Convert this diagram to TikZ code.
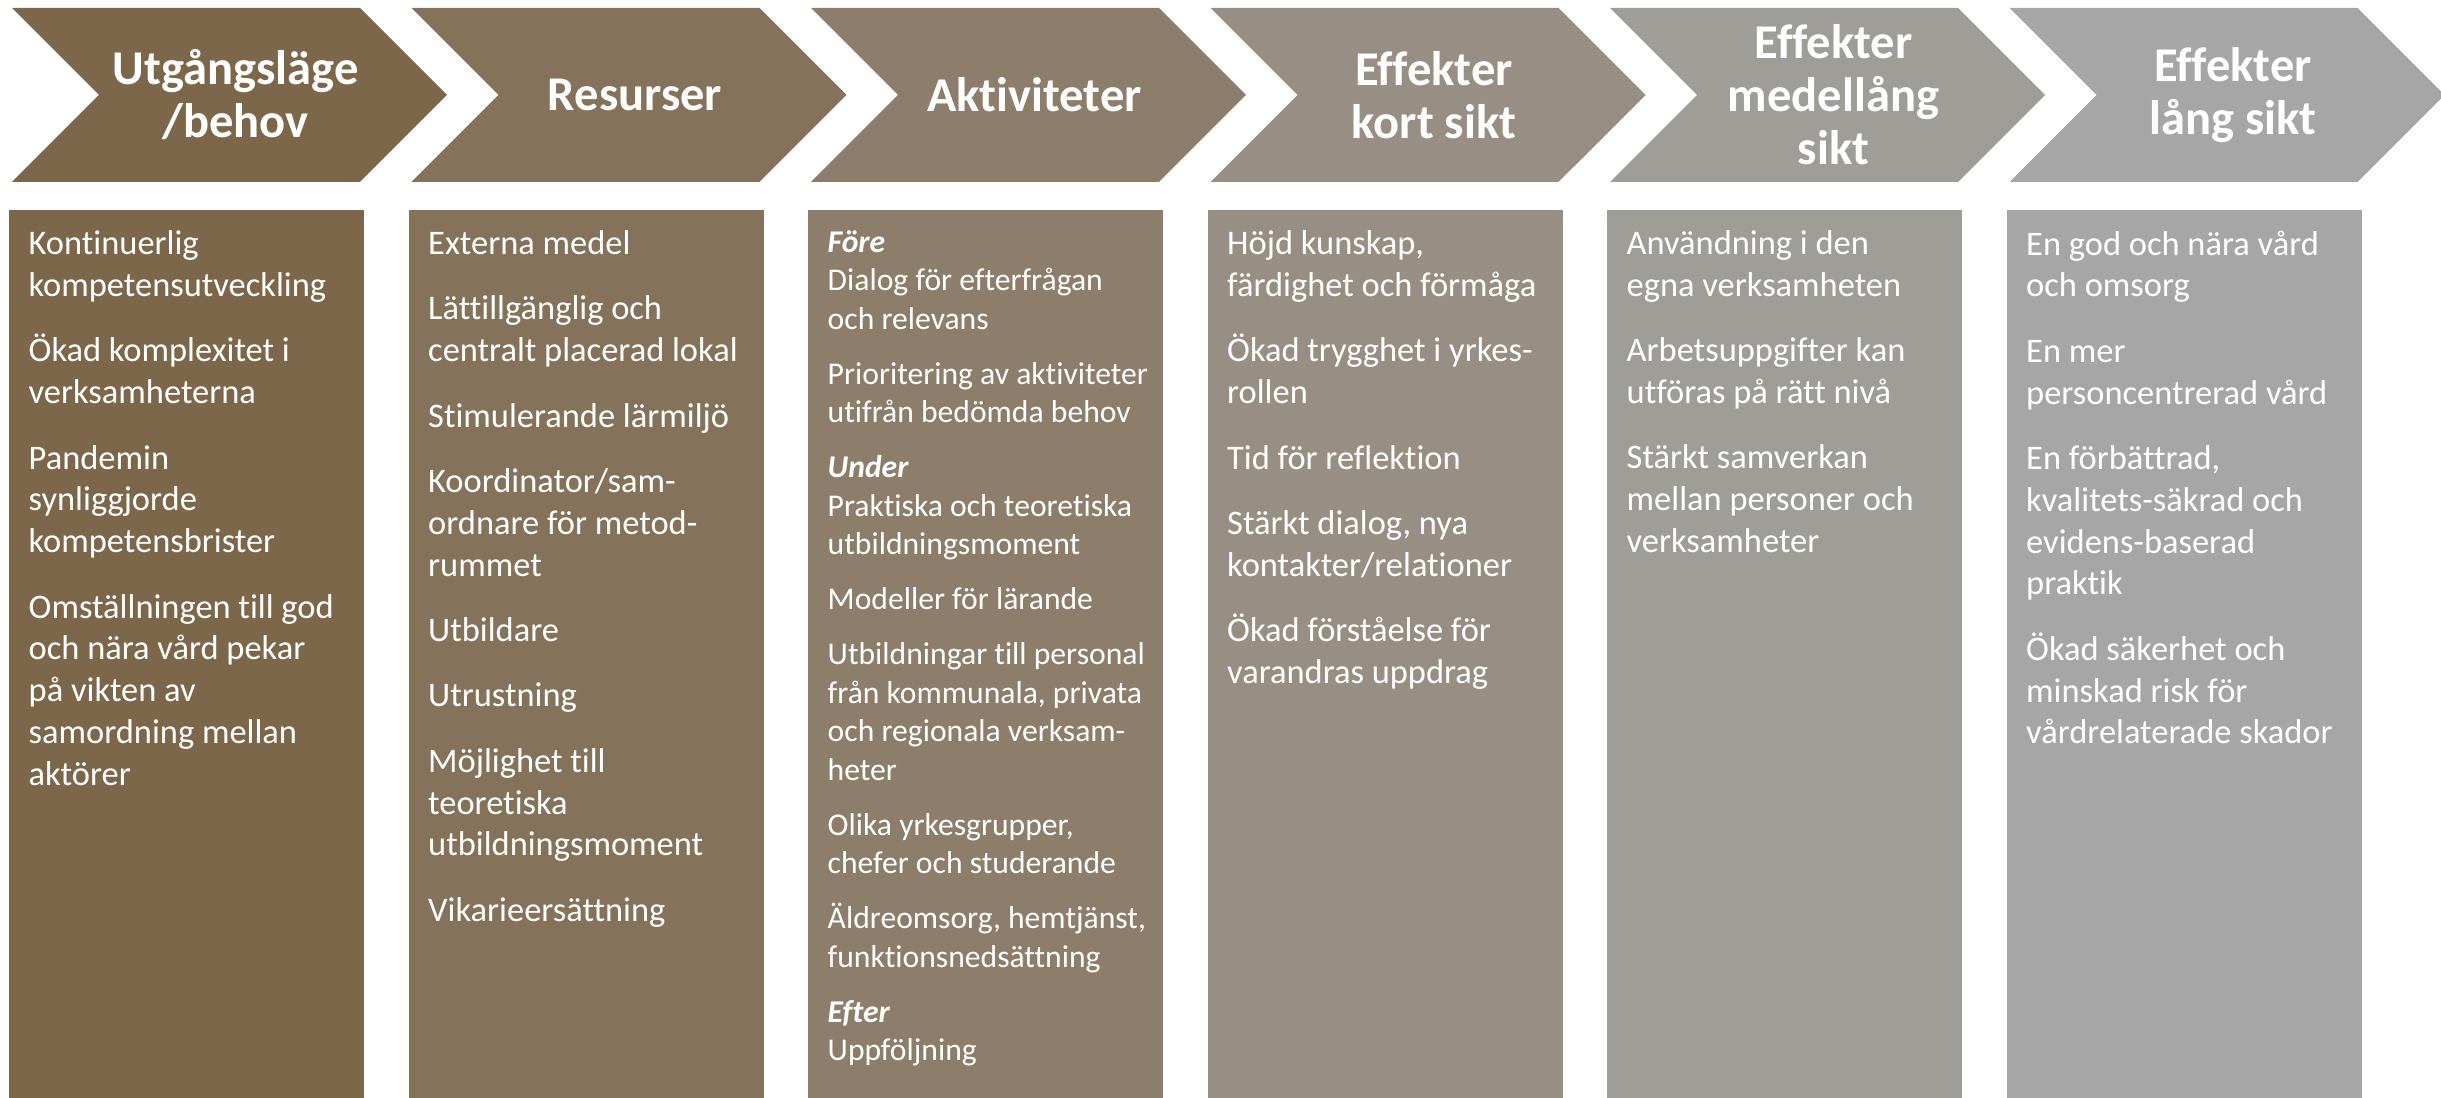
\documentclass[tikz,border=0pt]{standalone}
\usepackage{fontspec}
\setmainfont{Carlito}[Ligatures=NoCommon]
\usepackage{tikz}
\usetikzlibrary{shapes, shapes.symbols, positioning}
\usepackage{xcolor}
\definecolor{stepone}{HTML}{7D674A}
\definecolor{steptwo}{HTML}{84725A}
\definecolor{stepthree}{HTML}{8D7E6B}
\definecolor{stepfour}{HTML}{978F83}
\definecolor{stepfive}{HTML}{9F9D98}
\definecolor{stepsix}{HTML}{A6A6A6}

\begin{document}
\begin{tikzpicture}
        \tikzstyle{chevron}=[signal, signal from=west, signal to=east, signal pointer angle=90, minimum width=4.35cm, minimum height=1.74cm, inner sep=0pt, outer sep=0pt]
        \tikzstyle{header}=[text=white, align=center, inner sep=0pt, xshift=0.06cm, font=\bfseries\fontsize{13.8}{15.1}\selectfont]
        \tikzstyle{column}=[rectangle, minimum width=3.55cm, minimum height=8.88cm, inner sep=0pt, outer sep=0pt]
        \tikzstyle{items}=[text=white, align=left, inner sep=0pt, anchor=north west, font=\fontsize{9.8}{11.9}\selectfont]
        \tikzstyle{smallitems}=[items, font=\fontsize{9.0}{10.95}\selectfont]

        \useasboundingbox (0,0) rectangle (24.41,-10.98);

        % columns
        \node[column, fill=stepone, anchor=north west] (situationcol) at (0.09,-2.10) {};
        \node[column, fill=steptwo, right=0.445cm of situationcol] (resourcecol) {};
        \node[column, fill=stepthree, right=0.445cm of resourcecol] (activitycol) {};
        \node[column, fill=stepfour, right=0.445cm of activitycol] (shortcol) {};
        \node[column, fill=stepfive, right=0.445cm of shortcol] (midcol) {};
        \node[column, fill=stepsix, right=0.445cm of midcol] (longcol) {};

        % chevrons
        \node[chevron, fill=stepone, above=0.28cm of situationcol, xshift=0.43cm] (situation) {};
        \node[chevron, fill=steptwo, above=0.28cm of resourcecol, xshift=0.43cm] (resources) {};
        \node[chevron, fill=stepthree, above=0.28cm of activitycol, xshift=0.43cm] (activities) {};
        \node[chevron, fill=stepfour, above=0.28cm of shortcol, xshift=0.43cm] (shortterm) {};
        \node[chevron, fill=stepfive, above=0.28cm of midcol, xshift=0.43cm] (midterm) {};
        \node[chevron, fill=stepsix, above=0.28cm of longcol, xshift=0.43cm] (longterm) {};

        \node[header] (situationhead) at (situation.center) {Utgångsläge\\/behov};
        \node[header] (resourcehead) at (resources.center) {Resurser};
        \node[header] (activityhead) at (activities.center) {Aktiviteter};
        \node[header] (shorthead) at (shortterm.center) {Effekter\\kort sikt};
        \node[header] (midhead) at (midterm.center) {Effekter\\medellång\\sikt};
        \node[header] (longhead) at (longterm.center) {Effekter\\lång sikt};

        \node[items, below right=0.2cm and 0.19cm of situationcol.north west] (situationlist) {Kontinuerlig\\kompetensutveckling\\[6.7pt]Ökad komplexitet i\\verksamheterna\\[6.7pt]Pandemin\\synliggjorde\\kompetensbrister\\[6.7pt]Omställningen till god\\och nära vård pekar\\på vikten av\\samordning mellan\\aktörer};
        \node[items, below right=0.2cm and 0.19cm of resourcecol.north west] (resourcelist) {Externa medel\\[6.7pt]Lättillgänglig och\\centralt placerad lokal\\[6.7pt]Stimulerande lärmiljö\\[6.7pt]Koordinator/sam-\\ordnare för metod-\\rummet\\[6.7pt]Utbildare\\[6.7pt]Utrustning\\[6.7pt]Möjlighet till\\teoretiska\\utbildningsmoment\\[6.7pt]Vikarieersättning};
        \node[smallitems, below right=0.2cm and 0.19cm of activitycol.north west] (activitylist) {\textbf{\textit{Före}}\\Dialog för efterfrågan\\och relevans\\[4.7pt]Prioritering av aktiviteter\\utifrån bedömda behov\\[4.7pt]\textbf{\textit{Under}}\\Praktiska och teoretiska\\utbildningsmoment\\[4.7pt]Modeller för lärande\\[4.7pt]Utbildningar till personal\\från kommunala, privata\\och regionala verksam-\\heter\\[4.7pt]Olika yrkesgrupper,\\chefer och studerande\\[4.7pt]Äldreomsorg, hemtjänst,\\funktionsnedsättning\\[4.7pt]\textbf{\textit{Efter}}\\Uppföljning};
        \node[items, below right=0.2cm and 0.19cm of shortcol.north west] (shortlist) {Höjd kunskap,\\färdighet och förmåga\\[6.7pt]Ökad trygghet i yrkes-\\rollen\\[6.7pt]Tid för reflektion\\[6.7pt]Stärkt dialog, nya\\kontakter/relationer\\[6.7pt]Ökad förståelse för\\varandras uppdrag};
        \node[items, below right=0.2cm and 0.19cm of midcol.north west] (midlist) {Användning i den\\egna verksamheten\\[6.7pt]Arbetsuppgifter kan\\utföras på rätt nivå\\[6.7pt]Stärkt samverkan\\mellan personer och\\verksamheter};
        \node[items, below right=0.2cm and 0.19cm of longcol.north west] (longlist) {En god och nära vård\\och omsorg\\[6.7pt]En mer\\personcentrerad vård\\[6.7pt]En förbättrad,\\kvalitets-säkrad och\\evidens-baserad\\praktik\\[6.7pt]Ökad säkerhet och\\minskad risk för\\vårdrelaterade skador};
\end{tikzpicture}
\end{document}
